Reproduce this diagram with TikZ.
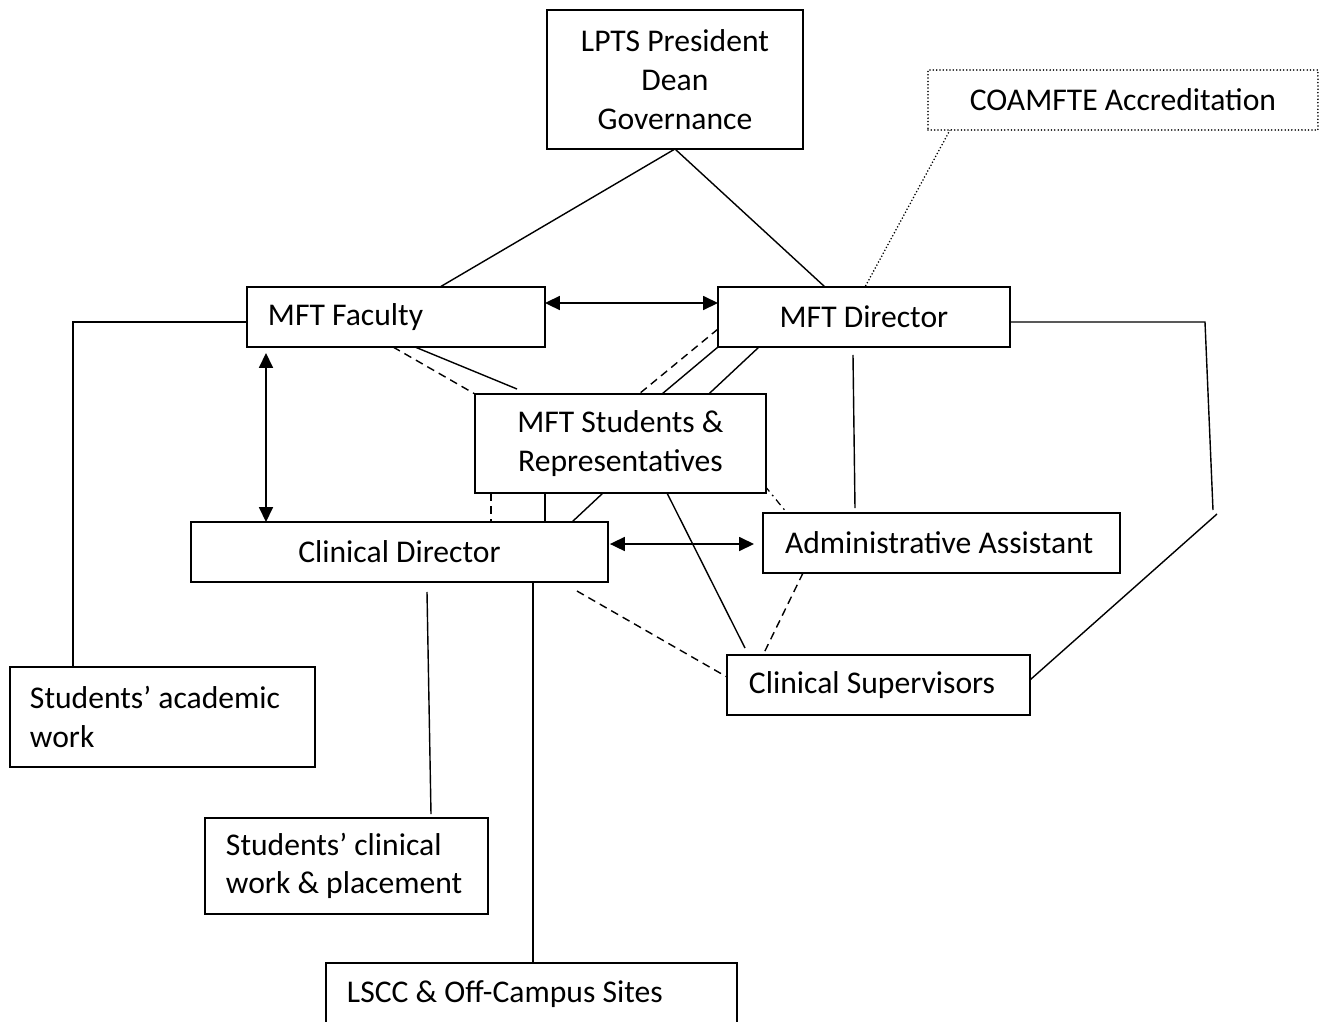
\documentclass[tikz,border=0pt]{standalone}
\usepackage{fontspec}
\setmainfont{Carlito}
\usetikzlibrary{arrows.meta,calc,backgrounds}
\begin{document}
\begin{tikzpicture}[x=0.02cm,y=-0.02cm,
  font=\fontsize{18}{22}\selectfont,
  box/.style={draw, line width=0.85pt, fill=white, inner ysep=0pt, outer sep=0pt, anchor=north west},
  cbox/.style 2 args={box, minimum width=#1, minimum height=#2, align=flush center, inner xsep=0pt},
  lbox/.style n args={3}{box, text width=#1, minimum height=#2, inner xsep=#3, align=flush left},
  con/.style={line width=0.8pt},
  dsh/.style={con, dash pattern=on 4.5pt off 3pt},
  dotl/.style={line width=1pt, line cap=round, dash pattern=on 0pt off 1.9pt},
  dshdot/.style={line width=0.7pt, dash pattern=on 4pt off 2.5pt on 1pt off 2.5pt},
  dbl/.style={con, <->, >={Triangle[length=8.5pt,width=8pt]}}]
\useasboundingbox (0,0) rectangle (1320,1022);

% boxes
\node[cbox={5.12cm}{2.78cm}] (lpts) at (547,10) {LPTS President\\Dean\\Governance};
\node[cbox={7.8cm}{1.2cm}, dotl] (coa) at (928,70) {COAMFTE Accreditation};
\node[lbox={5.12cm}{1.2cm}{0.42cm}] (fac) at (247,287) {MFT Faculty};
\node[cbox={5.84cm}{1.2cm}] (dir) at (718,287) {MFT Director};
\node[cbox={5.82cm}{1.98cm}] (stu) at (475,394) {MFT Students \&\\Representatives};
\node[cbox={8.34cm}{1.2cm}] (cd) at (191,522) {Clinical Director};
\node[lbox={6.26cm}{1.2cm}{0.44cm}] (adm) at (763,513) {\mbox{Administrative Assistant}};
\node[lbox={5.18cm}{1.2cm}{0.44cm}] (sup) at (727,655) {\mbox{Clinical Supervisors}};
\node[lbox={5.30cm}{2.0cm}{0.40cm}] (acad) at (10,667) {\mbox{Students’ academic}\\work};
\node[lbox={4.82cm}{1.92cm}{0.42cm}] (clin) at (205,818) {\mbox{Students’ clinical}\\\mbox{work \& placement}};
\node[lbox={7.38cm}{1.26cm}{0.42cm}] (lscc) at (326,963) {\mbox{LSCC \& Off-Campus Sites}};

\coordinate (r1) at (1205,322);
\coordinate (r2) at (1213,510);
\coordinate (r3) at (1217,514);

\begin{pgfonlayer}{background}
\fill[white] (0,0) rectangle (1320,1022);
% governance
\draw[con] (lpts.south) -- ($(fac.north west)+(193,0)$);
\draw[con] (lpts.south) -- ($(dir.north west)+(107,0)$);
% accreditation
\draw[dotl] ($(coa.south west)+(22,0)$) -- ($(dir.north west)+(147,0)$);
% faculty
\draw[dbl] ($(fac.north east)+(0,16)$) -- ($(dir.north west)+(0,16)$);
\draw[dbl] ($(fac.south west)+(19,6)$) -- ($(cd.north west)+(75,0)$);
\draw[con] ($(fac.north west)+(0,35)$) -| ($(acad.north west)+(63,0)$);
\draw[con] ($(fac.south west)+(168,0)$) -- ($(stu.north west)+(42,-5)$);
\draw[dsh] ($(fac.south west)+(146,0)$) -- (stu.north west);
% director
\draw[con] ($(dir.north east)+(0,35)$) -- (r1) -- (r2);
\draw[con] (r3) -- ($(sup.north east)+(0,25)$);
\draw[con] ($(dir.south west)+(135,8)$) -- ($(adm.north west)+(92,-5)$);
\draw[dsh] ($(dir.north west)+(0,42)$) -- ($(stu.north west)+(164,0)$);
\draw[con] (dir.south west) -- ($(stu.north west)+(187,0)$);
\draw[con] ($(dir.south west)+(41,0)$) -- ($(cd.north west)+(381,0)$);
% students
\draw[dsh] ($(stu.south west)+(16,0)$) -- ($(cd.north west)+(300,0)$);
\draw[con] ($(stu.south west)+(70,-8)$) -- ($(cd.north west)+(354,8)$);
\draw[con] ($(stu.south west)+(192,0)$) -- ($(sup.north west)+(18,-7)$);
\draw[dshdot] ($(stu.south east)+(-1,-7)$) -- ($(adm.north west)+(24,0)$);
% administrative assistant
\draw[dsh] ($(adm.south west)+(40,0)$) -- ($(sup.north west)+(36,0)$);
% clinical director
\draw[dbl] ($(cd.north east)+(2,22)$) -- ($(adm.north west)+(-9,31)$);
\draw[dsh] ($(cd.south east)+(-31,9)$) -- ($(sup.north west)+(0,22)$);
\draw[con] ($(cd.south west)+(342,0)$) -- ($(lscc.north west)+(207,0)$);
\draw[con] ($(cd.south west)+(236,10)$) -- ($(clin.north west)+(226,-4)$);
\end{pgfonlayer}
\end{tikzpicture}
\end{document}
